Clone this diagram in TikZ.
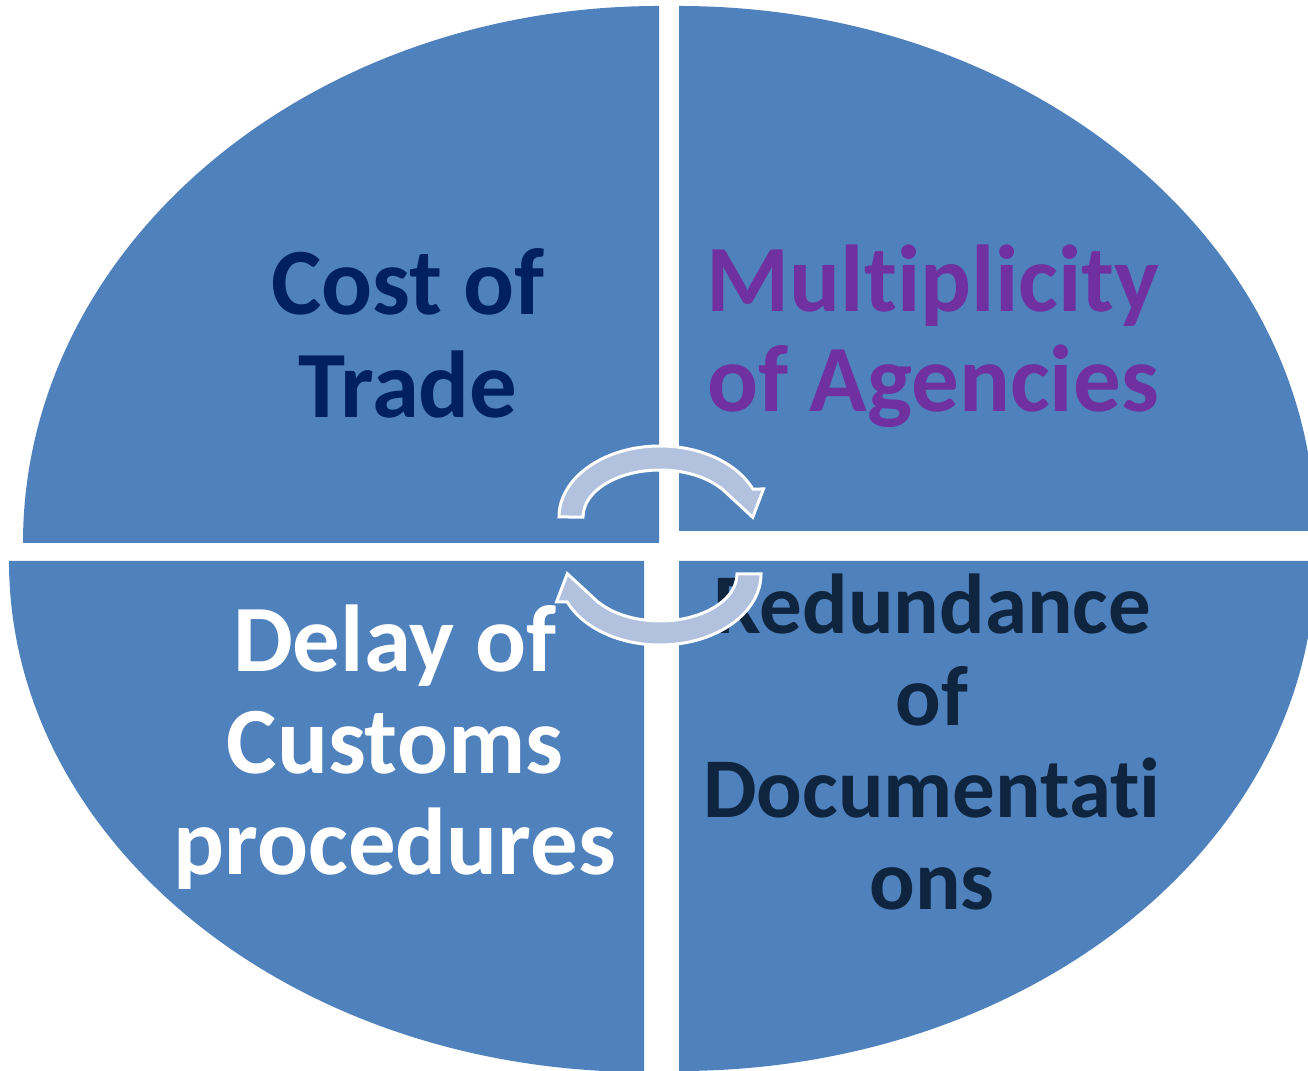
\documentclass[tikz,border=0pt]{standalone}
\usepackage{fontspec}
\setmainfont{Carlito}[Ligatures={NoCommon}]
\definecolor{quadblue}{RGB}{79,129,189}
\definecolor{navytxt}{RGB}{0,32,96}
\definecolor{purpletxt}{RGB}{112,48,160}
\definecolor{darktxt}{RGB}{15,36,62}
\definecolor{arrowfill}{RGB}{177,193,222}
\tikzset{
  quad/.style={fill=quadblue},
  lbl/.style={font=\bfseries\fontsize{95}{103}\selectfont, align=center, inner sep=0pt, anchor=base},
  cyc/.style={fill=arrowfill, draw=white, line width=3pt, line join=miter}
}
\begin{document}
\begin{tikzpicture}[x=1pt,y=1pt]
\useasboundingbox (0,0) rectangle (1308,1070);
\clip (0,0) rectangle (1308,1070);
% quadrants
\fill[quad] (659,527) -- ++(-636,0) arc[start angle=180, end angle=90, x radius=636, y radius=537] -- cycle;
\fill[quad] (679,539) -- ++(0,525) arc[start angle=90, end angle=0, x radius=636, y radius=525] -- cycle;
\fill[quad] (644,509) -- ++(-635,0) arc[start angle=180, end angle=270, x radius=635, y radius=511] -- cycle;
\fill[quad] (679,509) -- ++(636,0) arc[start angle=0, end angle=-90, x radius=636, y radius=510] -- cycle;
% labels (anchor = baseline of the last line)
\node[lbl, text=navytxt] (cost) at (408,652) {Cost of\\Trade};
\node[lbl, text=purpletxt, font=\bfseries\fontsize{95}{100}\selectfont] (multi) at (933,658) {Multiplicity\\of Agencies};
\node[lbl, text=white, font=\bfseries\fontsize{95}{101.5}\selectfont] (delay) at (395,195) {Delay of\\Customs\\procedures};
\node[lbl, text=darktxt, font=\bfseries\fontsize{85}{92}\selectfont] (redund) at (932,160) {Redundance\\of\\Documentati\\ons};
% cycle arrows
\def\cyclearrow{(559,553) arc[start angle=180, end angle=23.2, x radius=101, y radius=71] -- (763.5,581) -- (752.7,552.7) -- (720.5,582.5) -- (721.8,581) arc[start angle=36.6, end angle=180, x radius=77, y radius=47] -- cycle}
\draw[cyc] \cyclearrow;
\begin{scope}[rotate around={180:(660,524.5)}]
\draw[cyc] \cyclearrow;
\end{scope}
\end{tikzpicture}
\end{document}
